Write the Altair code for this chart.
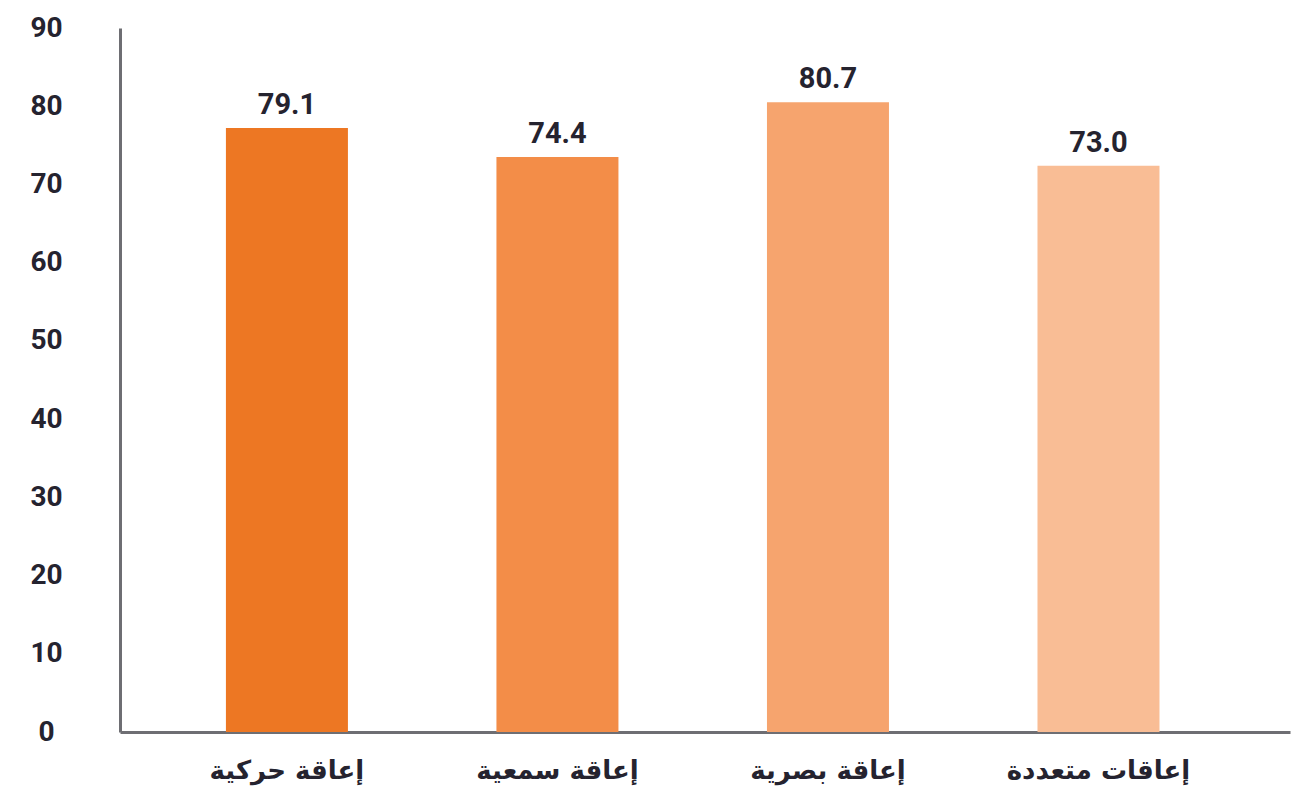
import altair as alt
import pandas as pd

categories = ["إعاقة حركية", "إعاقة سمعية", "إعاقة بصرية", "إعاقات متعددة"]
bar_heights = [77.2, 73.5, 80.5, 72.4]
value_labels = ["79.1", "74.4", "80.7", "73.0"]
bar_colors = ["#ED7723", "#F38D48", "#F6A46E", "#F9BD95"]
y_ticks = [0, 10, 20, 30, 40, 50, 60, 70, 80, 90]

df = pd.DataFrame({
    "cat": categories,
    "h": bar_heights,
    "lab": value_labels,
    "col": bar_colors,
})

x = alt.X(
    "cat:N",
    sort=categories,
    title=None,
    scale=alt.Scale(paddingInner=0.549, paddingOuter=0.437, align=0.448),
    axis=alt.Axis(
        labelAngle=0,
        labelFont="DejaVu Sans",
        labelFontWeight="bold",
        labelFontSize=26,
        labelColor="#25232F",
        labelBaseline="middle",
        labelPadding=38,
        labelLimit=400,
        ticks=False,
        tickSize=0,
        domainColor="#6E6E73",
        domainWidth=3,
        grid=False,
    ),
)

y = alt.Y(
    "h:Q",
    title=None,
    scale=alt.Scale(domain=[0, 90], nice=False, zero=True),
    axis=alt.Axis(
        values=y_ticks,
        labelFont="Roboto",
        labelFontWeight="bold",
        labelFontSize=28,
        labelColor="#25232F",
        labelAlign="center",
        labelPadding=74,
        ticks=False,
        tickSize=0,
        domainColor="#6E6E73",
        domainWidth=3,
        grid=False,
    ),
)

bars = alt.Chart(df).mark_bar().encode(
    x=x,
    y=y,
    color=alt.Color("col:N", scale=None, legend=None),
)

labels = alt.Chart(df).mark_text(
    font="Roboto",
    fontWeight="bold",
    fontSize=29,
    color="#25232F",
    baseline="middle",
    dy=-23,
).encode(
    x=alt.X("cat:N", sort=categories),
    y=alt.Y("h:Q"),
    text="lab:N",
)

chart = (
    alt.layer(bars, labels)
    .properties(
        width=1170,
        height=704,
        autosize=alt.AutoSizeParams(type="none"),
        padding={"left": 112, "top": 20, "right": 6, "bottom": 54},
        background="white",
    )
    .configure_view(stroke=None)
)

chart.save("out.html", embed_options={"renderer": "svg", "actions": False})
